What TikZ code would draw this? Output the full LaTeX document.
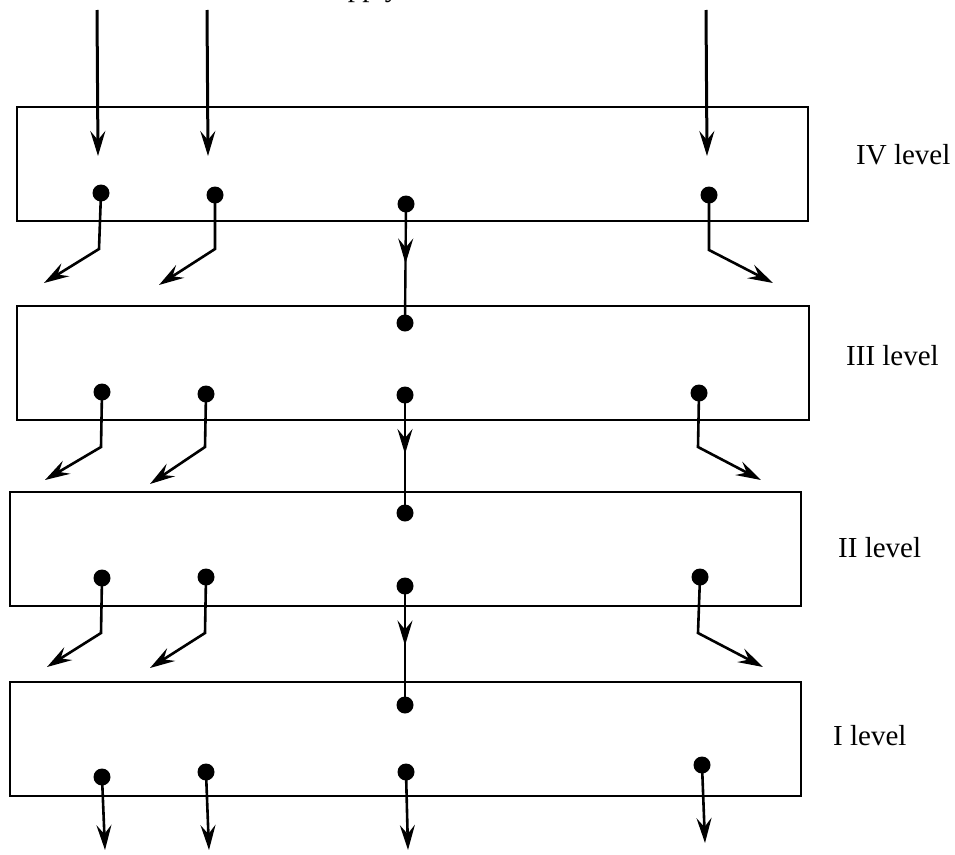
\documentclass[tikz,border=0pt]{standalone}
\usepackage{fontspec}
\setmainfont{Liberation Serif}
\usetikzlibrary{arrows.meta,decorations.markings}
\begin{document}
\begin{tikzpicture}[x=1pt,y=-1pt,
  box/.style={draw, line width=1.5pt, anchor=north west, inner sep=0pt, outer sep=0pt, minimum height=114pt},
  dotn/.style={circle, fill=black, inner sep=0pt, minimum size=17pt},
  lvl/.style={anchor=west, font=\fontsize{29}{34}\selectfont, inner sep=0pt},
  tip/.style={-{Stealth[length=25pt,width=15pt,inset=9pt]}},
  inarrow/.style={tip, line width=3pt},
  outarrow/.style={tip, line width=2.6pt},
  midarrow/.style={line width=2.4pt, postaction={decorate},
    decoration={markings, mark=at position 0.5 with {\arrow{Stealth[length=25pt,width=15pt,inset=9pt]}}}}
]
\useasboundingbox (0,0) rectangle (955,854);

% partial title (clipped at top)
\node[anchor=base west, font=\fontsize{29}{34}\selectfont, inner sep=0pt] (title) at (317,-4) {Supply};

% boxes
\node[box, minimum width=791pt] (B4) at (17,107) {};
\node[box, minimum width=792pt] (B3) at (17,306) {};
\node[box, minimum width=791pt] (B2) at (10,492) {};
\node[box, minimum width=791pt] (B1) at (10,682) {};

% labels
\node[lvl] (L4) at (856,155) {IV level};
\node[lvl] (L3) at (846,356) {III level};
\node[lvl] (L2) at (838,548) {II level};
\node[lvl] (L1) at (833,736) {I level};

% dots
\node[dotn] (a1) at (101,193) {};
\node[dotn] (a2) at (215,195) {};
\node[dotn] (a3) at (406,204) {};
\node[dotn] (a4) at (709,195) {};

\node[dotn] (c0) at (405,323) {};
\node[dotn] (c1) at (102,392) {};
\node[dotn] (c2) at (206,394) {};
\node[dotn] (c3) at (405,395) {};
\node[dotn] (c4) at (699,393) {};

\node[dotn] (d0) at (405,513) {};
\node[dotn] (d1) at (102,578) {};
\node[dotn] (d2) at (206,577) {};
\node[dotn] (d3) at (405,586) {};
\node[dotn] (d4) at (700,577) {};

\node[dotn] (e0) at (405,705) {};
\node[dotn] (e1) at (102,777) {};
\node[dotn] (e2) at (206,772) {};
\node[dotn] (e3) at (406,772) {};
\node[dotn] (e4) at (702,765) {};

% top inputs
\coordinate (t1s) at (97,10);  \coordinate (t1e) at (98,156);
\coordinate (t2s) at (207,10); \coordinate (t2e) at (208,156);
\coordinate (t3s) at (706,10); \coordinate (t3e) at (707,156);
\draw[inarrow] (t1s) -- (t1e);
\draw[inarrow] (t2s) -- (t2e);
\draw[inarrow] (t3s) -- (t3e);

% level IV outputs
\coordinate (a1b) at (99,249);  \coordinate (a1e) at (44,283);
\coordinate (a2b) at (215,249); \coordinate (a2e) at (159,285);
\coordinate (a4b) at (709,250); \coordinate (a4e) at (773,283);
\draw[outarrow] (a1.center) -- (a1b) -- (a1e);
\draw[outarrow] (a2.center) -- (a2b) -- (a2e);
\draw[outarrow] (a4.center) -- (a4b) -- (a4e);
\draw[midarrow] (a3.center) -- (c0.center);

% level III outputs
\coordinate (c1b) at (101,447); \coordinate (c1e) at (45,480);
\coordinate (c2b) at (205,447); \coordinate (c2e) at (150,484);
\coordinate (c4b) at (698,447); \coordinate (c4e) at (761,480);
\draw[outarrow] (c1.center) -- (c1b) -- (c1e);
\draw[outarrow] (c2.center) -- (c2b) -- (c2e);
\draw[outarrow] (c4.center) -- (c4b) -- (c4e);
\draw[midarrow] (c3.center) -- (d0.center);

% level II outputs
\coordinate (d1b) at (101,633); \coordinate (d1e) at (47,667);
\coordinate (d2b) at (205,633); \coordinate (d2e) at (150,668);
\coordinate (d4b) at (698,633); \coordinate (d4e) at (763,667);
\draw[outarrow] (d1.center) -- (d1b) -- (d1e);
\draw[outarrow] (d2.center) -- (d2b) -- (d2e);
\draw[outarrow] (d4.center) -- (d4b) -- (d4e);
\draw[midarrow] (d3.center) -- (e0.center);

% level I outputs
\coordinate (e1e) at (105,850);
\coordinate (e2e) at (209,850);
\coordinate (e3e) at (408,850);
\coordinate (e4e) at (705,843);
\draw[outarrow] (e1.center) -- (e1e);
\draw[outarrow] (e2.center) -- (e2e);
\draw[outarrow] (e3.center) -- (e3e);
\draw[outarrow] (e4.center) -- (e4e);
\end{tikzpicture}
\end{document}
